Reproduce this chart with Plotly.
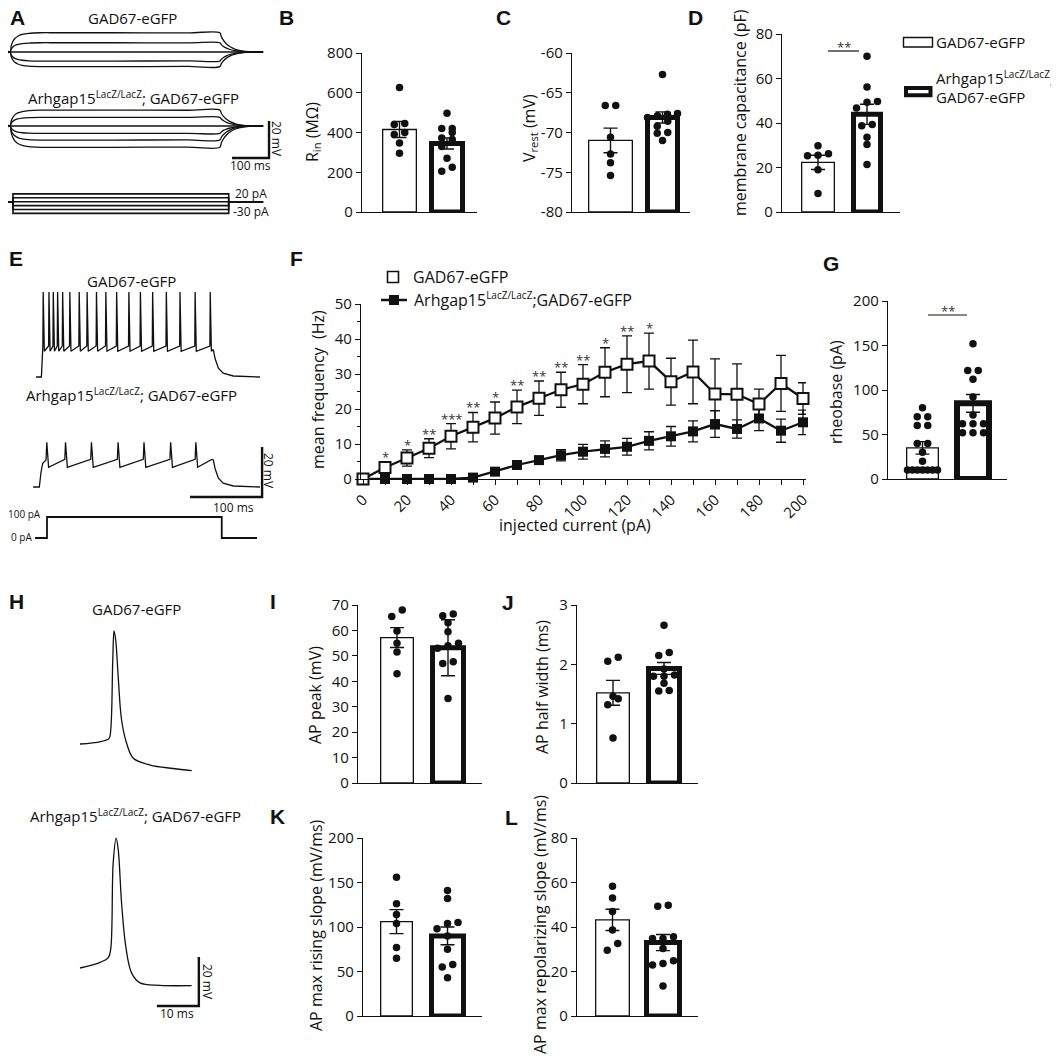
import plotly.graph_objects as go

W, H = 1059, 1060
OFF = 8  # the page body offsets the figure by 8 px; compensate so pixels match the reference
FONT = "Open Sans"
LETTER_FONT = "Liberation Sans"
INK = "#111111"
SUP = '<sup><span style="font-size:10px">LacZ/LacZ</span></sup>'

# ======================= DATA =======================
# A: passive responses to current steps (time ms, voltage mV relative to rest)
A_T = [0, 19, 22, 26, 32, 40, 52, 70, 100, 150, 300, 500, 586, 590, 596, 604, 614, 628, 645, 665, 703]
A_SHAPE = [0, 0, 0.30, 0.52, 0.70, 0.82, 0.91, 0.97, 1.0, 1.0, 1.0, 0.99, 1.0, 0.80, 0.60, 0.42, 0.27, 0.14, 0.06, 0.015, 0]
A_WT_AMP = [10.4, 5.0, 0.0, -4.9, -7.9]
A_KO_AMP = [8.6, 4.7, 0.0, -4.0, -7.6, -11.5]
A_STEP_T = [0, 27, 27, 610, 610, 703]
A_STEP_PA = [20, 10, 0, -10, -20, -30]

# B: input resistance (MOhm)
B_MEAN = [415, 345]
B_SEM = [40, 28]
B_WT = [627, 445, 440, 400, 390, 347, 295]
B_KO = [497, 420, 420, 400, 372, 365, 330, 270, 225, 205]

# C: resting potential (mV)
C_MEAN = [-71.0, -68.1]
C_SEM = [1.55, 0.7]
C_WT = [-66.6, -66.6, -70.6, -72.7, -73.8, -75.4]
C_KO = [-62.7, -67.6, -67.7, -67.9, -68.1, -68.6, -69.2, -70.0, -70.1, -71.0]
C_TICKS = [-80, -75, -70, -65, -60]

# D: membrane capacitance (pF)
D_MEAN = [22.3, 43.9]
D_SEM = [3.2, 4.5]
D_WT = [29.8, 26.2, 25.5, 25.3, 19.0, 8.3]
D_KO = [70.0, 56.2, 49.7, 49.3, 46.7, 39.3, 38.8, 33.6, 30.3, 21.3]

# E: firing at 100 pA (time ms, voltage mV relative to rest)
E_WT_SPIKES = [10, 18, 24, 30, 37, 47, 60, 71, 84, 97, 112, 129, 145, 162, 181, 200, 221, 242]
E_WT_PEAK, E_WT_PRE, E_WT_TROUGH = 34.0, 12.4, 10.3
E_WT_ON_T = [0, 7.5, 8.3, 9.0]
E_WT_ON_V = [0, 0, 5, 9]
E_WT_OFF_T = [246.3, 248.6, 253.3, 260, 274, 311]
E_WT_OFF_V = [11.0, 7.5, 3.5, 1.5, 0.4, 0]
E_KO_SPIKES = [15, 41, 77, 114, 150, 187, 222]
E_KO_PEAK, E_KO_PRE, E_KO_TROUGH = 17.9, 11.1, 7.9
E_KO_ON_T = [-4, 4.6, 7, 9.3, 13.5]
E_KO_ON_V = [0, 0, 6, 9.5, 10.6]
E_KO_OFF_T = [244, 246.3, 248.6, 253.3, 260, 274, 311]
E_KO_OFF_V = [11.0, 10.8, 7.5, 3.5, 1.5, 0.4, 0]
E_STEP_T = [-1.4, 15.3, 15.3, 258, 258, 307]
E_STEP_PA = [0, 0, 100, 100, 0, 0]

# F: mean frequency vs injected current
F_X = [0, 10, 20, 30, 40, 50, 60, 70, 80, 90, 100, 110, 120, 130, 140, 150, 160, 170, 180, 190, 200]
F_WT = [0, 3.3, 6.0, 8.8, 12.2, 14.8, 17.4, 20.6, 23.1, 25.5, 27.1, 30.5, 32.8, 33.7, 27.8, 30.6, 24.3, 24.2, 21.4, 27.3, 23.0]
F_WT_ERR = [0, 1.5, 2.3, 2.7, 3.6, 4.2, 4.6, 4.8, 4.9, 5.0, 5.6, 7.0, 8.1, 8.0, 6.7, 9.1, 10.0, 8.7, 4.3, 8.0, 4.5]
F_KO = [0, 0, 0, 0, 0, 0.4, 2.1, 4.0, 5.4, 6.8, 7.8, 8.6, 9.2, 10.9, 12.2, 13.6, 15.7, 14.3, 17.3, 13.8, 16.2]
F_KO_ERR = [0, 0, 0, 0, 0, 0.4, 0.6, 0.7, 1.0, 1.6, 2.1, 2.3, 2.4, 2.6, 2.8, 3.0, 3.8, 2.6, 3.5, 3.3, 3.5]
F_STARS = ["*", "*", "**", "***", "**", "*", "**", "**", "**", "**", "*", "**", "*"]  # for 10..130 pA

# G: rheobase (pA)
G_MEAN = [35, 85]
G_SEM = [7, 10]
G_WT = [10, 10, 10, 10, 10, 10, 10, 20, 30, 40, 40, 60, 60, 70, 70, 80]
G_KO = [52, 52, 52, 62, 62, 62, 72, 92, 112, 122, 122, 152]

# H: single action potentials (time ms, voltage mV)
H_WT_T = [0, 4.8, 6.7, 7.1, 7.8, 8.1, 8.5, 9.1, 9.9, 11.1, 12.7, 16.7, 22.2, 26.6]
H_WT_V = [0, 0.9, 1.9, 2.9, 34.0, 46.2, 42.4, 27.3, 9.8, 0.3, -5.8, -8.6, -10.0, -10.9]
H_KO_T = [0, 4.8, 6.7, 7.3, 7.9, 8.6, 9.1, 9.9, 10.9, 12.3, 14.3, 19.0, 26.6]
H_KO_V = [0, 2.3, 4.1, 7.5, 42.8, 53.0, 48.3, 26.5, 8.8, -2.1, -6.1, -7.1, -7.2]

# I: AP peak (mV)
I_MEAN = [57.2, 53.2]
I_SEM = [3.9, 11.0]
I_WT = [68.0, 65.5, 59.8, 55.0, 51.5, 43.0]
I_KO = [66.5, 65.8, 63.0, 59.5, 55.0, 54.0, 53.0, 47.7, 47.0, 33.2]

# J: AP half width (ms)
J_MEAN = [1.52, 1.93]
J_SEM = [0.21, 0.10]
J_WT = [2.05, 2.12, 1.42, 1.46, 1.32, 0.76]
J_KO = [2.66, 2.15, 2.20, 1.92, 1.82, 1.80, 1.80, 1.68, 1.56, 1.55]

# K: AP max rising slope (mV/ms)
K_MEAN = [106, 90]
K_SEM = [13.5, 10]
K_WT = [156, 126, 114, 104, 77, 65]
K_KO = [141, 132, 105, 104, 98, 90, 75, 58, 55, 43]

# L: AP max repolarizing slope (mV/ms)
L_MEAN = [43.2, 33.0]
L_SEM = [4.8, 3.6]
L_WT = [58.3, 53.0, 47.0, 38.6, 32.6, 29.5]
L_KO = [49.8, 49.3, 35.6, 34.8, 34.8, 30.3, 24.8, 23.6, 22.9, 13.5]

# scale bars (ms, mV)
A_BAR = (100, 20)
E_BAR = (100, 20)
H_BAR = (10, 20)

# ======================= LAYOUT HELPERS =======================
layout = dict(width=W, height=H, autosize=False,
              margin=dict(l=0, r=0, t=0, b=0, pad=0, autoexpand=False),
              paper_bgcolor="white", plot_bgcolor="rgba(0,0,0,0)",
              showlegend=False, barmode="overlay", annotations=[], shapes=[])
traces = []
_n = [0]


def fx(px):
    return (px - OFF) / W


def fy(py):
    return 1 - (py - OFF) / H


def add_axes(xpx, ypx, xr, yr):
    _n[0] += 1
    k = _n[0]
    s = "" if k == 1 else str(k)
    layout["xaxis" + s] = dict(domain=[fx(xpx[0]), fx(xpx[1])], range=list(xr), anchor="y" + s,
                               visible=False, fixedrange=True, showgrid=False, zeroline=False,
                               automargin=False)
    layout["yaxis" + s] = dict(domain=[fy(ypx[1]), fy(ypx[0])], range=list(yr), anchor="x" + s,
                               visible=False, fixedrange=True, showgrid=False, zeroline=False,
                               automargin=False)
    return "x" + s, "y" + s


def trace_axes(xpx, ypx, ref_px, ref_py, ux, uy):
    xr = [(xpx[0] - ref_px) * ux, (xpx[1] - ref_px) * ux]
    yr = [(ref_py - ypx[1]) * uy, (ref_py - ypx[0]) * uy]
    return add_axes(xpx, ypx, xr, yr)


def ann(px, py, text, size=15, xanchor="center", yanchor="middle", angle=0, family=FONT, color=INK):
    layout["annotations"].append(dict(x=fx(px), y=fy(py), xref="paper", yref="paper", text=text,
                                      showarrow=False, font=dict(family=family, size=size, color=color),
                                      xanchor=xanchor, yanchor=yanchor, textangle=angle))


def line(xs, ys, xa, ya, width=1.3, shape="linear"):
    traces.append(go.Scatter(x=xs, y=ys, mode="lines", line=dict(color=INK, width=width, shape=shape),
                             xaxis=xa, yaxis=ya, hoverinfo="skip", cliponaxis=False))


def scale_bar(corner_t, corner_v, bar, xa, ya):
    line([corner_t - bar[0], corner_t, corner_t], [corner_v, corner_v, corner_v + bar[1]], xa, ya, width=2.4)


def yfmt(ya, **kw):
    key = "yaxis" + ya[1:]
    layout[key].update(visible=True, showline=True, linecolor=INK, linewidth=1.3, ticks="outside",
                       ticklen=5, tickwidth=1.3, tickcolor=INK,
                       tickfont=dict(family=FONT, size=15, color=INK), **kw)


def xfmt_plain(xa):
    key = "xaxis" + xa[1:]
    layout[key].update(visible=True, showline=True, linecolor=INK, linewidth=1.3,
                       ticks="", showticklabels=False)


def swarm(vals, ppu, thresh=7.0, gap=10.5, maxspread=30.0):
    order = sorted(range(len(vals)), key=lambda i: vals[i])
    groups = []
    for i in order:
        if groups and (vals[i] - vals[groups[-1][0]]) * ppu < thresh:
            groups[-1].append(i)
        else:
            groups.append([i])
    offs = [0.0] * len(vals)
    for g in groups:
        n = len(g)
        step = gap if n < 2 else min(gap, maxspread / (n - 1))
        for k, i in enumerate(g):
            offs[i] = (k - (n - 1) / 2) * step
    return offs


def bar_panel(xpx, ypx, centers, yr, means, sems, wt, ko, wpx, ko_lw=5.0, **yk):
    s = centers[1] - centers[0]
    xr = [(xpx[0] - centers[0]) / s, (xpx[1] - centers[0]) / s]
    xa, ya = add_axes(xpx, ypx, xr, yr)
    xfmt_plain(xa)
    yfmt(ya, **yk)
    base = yr[0]
    traces.append(go.Bar(x=[0], y=[means[0] - base], base=base, width=(wpx[0] - 1.3) / s,
                         marker=dict(color="white", line=dict(color=INK, width=1.3)),
                         xaxis=xa, yaxis=ya, cliponaxis=False, hoverinfo="skip"))
    traces.append(go.Bar(x=[1], y=[means[1] - base], base=base, width=(wpx[1] - ko_lw) / s,
                         marker=dict(color="white", line=dict(color=INK, width=ko_lw)),
                         xaxis=xa, yaxis=ya, cliponaxis=False, hoverinfo="skip"))
    traces.append(go.Scatter(x=[0, 1], y=means, mode="markers",
                             marker=dict(size=1, color="rgba(0,0,0,0)"),
                             error_y=dict(type="data", array=sems, color=INK, thickness=1.4, width=7),
                             xaxis=xa, yaxis=ya, hoverinfo="skip"))
    ppu = (ypx[1] - ypx[0]) / (yr[1] - yr[0])
    for c, vals in ((0, wt), (1, ko)):
        offs = swarm(vals, ppu)
        traces.append(go.Scatter(x=[c + o / s for o in offs], y=vals, mode="markers",
                                 marker=dict(size=7.5, color=INK), xaxis=xa, yaxis=ya,
                                 cliponaxis=False, hoverinfo="skip"))
    return xa, ya


# ======================= PANEL A =======================
ua_t, ua_v = 100 / 37, 20 / 37
xa, ya = trace_axes((8, 285), (22, 82), 3, 52, ua_t, ua_v)
for a in A_WT_AMP:
    line(A_T, [a * s for s in A_SHAPE], xa, ya, width=1.3, shape="spline")
xa, ya = trace_axes((8, 285), (100, 165), 3, 126, ua_t, ua_v)
for a in A_KO_AMP:
    line(A_T, [a * s for s in A_SHAPE], xa, ya, width=1.3, shape="spline")
scale_bar(719, -17.3, A_BAR, xa, ya)
xa, ya = trace_axes((8, 285), (188, 218), 3, 201.7, ua_t, 10 / 3.9)
for i_pa in A_STEP_PA:
    line(A_STEP_T, [0, 0, i_pa, i_pa, 0, 0], xa, ya, width=1.6)
ann(132, 18, "GAD67-eGFP", 15)
ann(133, 98, "Arhgap15" + SUP + "; GAD67-eGFP", 15)
ann(277, 139, "20 mV", 12, angle=90)
ann(250, 166, "100 ms", 12)
ann(233, 193, "20 pA", 12, xanchor="left")
ann(231, 212, "-30 pA", 12, xanchor="left")

# ======================= PANEL B / C / D =======================
xa, ya = bar_panel((362, 477), (53, 212), (399.5, 447), [0, 800], B_MEAN, B_SEM, B_WT, B_KO, (35, 36),
                   dtick=200, tick0=0)
ann(313, 132, "R<sub>in</sub> (MΩ)", 16, angle=-90)

xa, ya = bar_panel((572, 690), (53, 212), (610.5, 662.5), [-80, -60], C_MEAN, C_SEM, C_WT, C_KO, (45, 35),
                   tickvals=C_TICKS, ticktext=[str(t) for t in C_TICKS])
ann(530, 128, "V<sub>rest</sub> (mV)", 16, angle=-90)

xa, ya = bar_panel((782, 900), (34, 212), (818, 867), [0, 80], D_MEAN, D_SEM, D_WT, D_KO, (34, 32),
                   dtick=20, tick0=0)
ann(740, 113, "membrane capacitance (pF)", 16, angle=-90)
layout["shapes"].append(dict(type="line", xref="paper", yref="paper", x0=fx(828), x1=fx(859),
                             y0=fy(51), y1=fy(51), line=dict(color=INK, width=1.2)))
ann(843.5, 47, "**", 13, color="#333")
# legend of D
layout["shapes"].append(dict(type="rect", xref="paper", yref="paper", x0=fx(903.5), x1=fx(932.5),
                             y0=fy(47), y1=fy(37.5), line=dict(color=INK, width=1.4), fillcolor="white"))
layout["shapes"].append(dict(type="rect", xref="paper", yref="paper", x0=fx(906), x1=fx(930.5),
                             y0=fy(95.3), y1=fy(88), line=dict(color=INK, width=4), fillcolor="white"))
ann(934, 42, "GAD67-eGFP", 15, xanchor="left")
ann(934, 78, "Arhgap15" + SUP + ";", 15, xanchor="left")
ann(934, 97, "GAD67-eGFP", 15, xanchor="left")

# ======================= PANEL E =======================
ue_t, ue_v = 100 / 72, 20 / 50


def spike_train(on_t, on_v, spikes, peak, pre, trough, rise, fall, off_t, off_v):
    t, v = list(on_t), list(on_v)
    for ts in spikes:
        t += [ts - rise, ts, ts + fall]
        v += [pre, peak, trough]
    return t + list(off_t), v + list(off_v)


xa, ya = trace_axes((20, 290), (282, 390), 36, 377, ue_t, ue_v)
t, v = spike_train(E_WT_ON_T, E_WT_ON_V, E_WT_SPIKES, E_WT_PEAK, E_WT_PRE, E_WT_TROUGH, 0.5, 1.6,
                   E_WT_OFF_T, E_WT_OFF_V)
line(t, v, xa, ya, width=1.3)
xa, ya = trace_axes((20, 290), (430, 500), 36, 487, ue_t, ue_v)
t, v = spike_train(E_KO_ON_T, E_KO_ON_V, E_KO_SPIKES, E_KO_PEAK, E_KO_PRE, E_KO_TROUGH, 1.0, 2.5,
                   E_KO_OFF_T, E_KO_OFF_V)
line(t, v, xa, ya, width=1.3)
scale_bar(314, -4, E_BAR, xa, ya)
xa, ya = trace_axes((20, 290), (510, 545), 36, 538, ue_t, 100 / 21)
line(E_STEP_T, E_STEP_PA, xa, ya, width=1.8)
ann(131, 281, "GAD67-eGFP", 15)
ann(131, 394, "Arhgap15" + SUP + "; GAD67-eGFP", 15)
ann(269, 471, "20 mV", 12, angle=90)
ann(233, 507, "100 ms", 12)
ann(43, 514, "100 pA", 10, xanchor="right")
ann(34, 537, "0 pA", 10, xanchor="right")

# ======================= PANEL F =======================
xa, ya = add_axes((361, 806), (304, 479), [(361 - 363) * 200 / 440, (806 - 363) * 200 / 440], [0, 50])
layout["xaxis" + xa[1:]].update(visible=True, showline=True, linecolor=INK, linewidth=1.3, ticks="outside",
                                ticklen=5, tickwidth=1.3, tickcolor=INK, dtick=20, tick0=0, tickangle=-45,
                                tickfont=dict(family=FONT, size=15, color=INK),
                                minor=dict(dtick=10, ticklen=5, tickwidth=1.3, tickcolor=INK, ticks="outside"))
yfmt(ya, dtick=10, tick0=0, minor=dict(dtick=5, ticklen=3, tickwidth=1.2, tickcolor=INK, ticks="outside"))
traces.append(go.Scatter(x=F_X, y=F_KO, mode="lines+markers", line=dict(color=INK, width=2.3),
                         marker=dict(symbol="square", size=10, color=INK),
                         error_y=dict(type="data", array=F_KO_ERR, color=INK, thickness=1.3, width=5),
                         xaxis=xa, yaxis=ya, cliponaxis=False, hoverinfo="skip"))
traces.append(go.Scatter(x=F_X, y=F_WT, mode="lines+markers", line=dict(color=INK, width=2.3),
                         marker=dict(symbol="square", size=11, color="white", line=dict(color=INK, width=2)),
                         error_y=dict(type="data", array=F_WT_ERR, color=INK, thickness=1.3, width=5),
                         xaxis=xa, yaxis=ya, cliponaxis=False, hoverinfo="skip"))
for i, st in enumerate(F_STARS):
    layout["annotations"].append(dict(x=F_X[i + 1], y=F_WT[i + 1] + F_WT_ERR[i + 1], xref=xa, yref=ya,
                                      text=st, showarrow=False, yanchor="bottom", yshift=-6,
                                      font=dict(family=FONT, size=13, color="#333")))
ann(575, 525, "injected current (pA)", 16)
ann(318, 390, "mean frequency  (Hz)", 16, angle=-90)
# legend of F (drawn in a pixel-coordinate helper axis)
lx, ly = add_axes((370, 420), (265, 312), [370, 420], [312, 265])
traces.append(go.Scatter(x=[381, 407], y=[300, 300], mode="lines", line=dict(color=INK, width=2.5),
                         xaxis=lx, yaxis=ly, hoverinfo="skip"))
traces.append(go.Scatter(x=[394], y=[300], mode="markers", marker=dict(symbol="square", size=10, color=INK),
                         xaxis=lx, yaxis=ly, hoverinfo="skip"))
traces.append(go.Scatter(x=[393], y=[277], mode="markers",
                         marker=dict(symbol="square", size=11, color="white", line=dict(color=INK, width=1.6)),
                         xaxis=lx, yaxis=ly, hoverinfo="skip"))
ann(411, 277, "GAD67-eGFP", 16, xanchor="left")
ann(412, 300, "Arhgap15" + SUP + ";GAD67-eGFP", 16, xanchor="left")

# ======================= PANEL G =======================
xa, ya = bar_panel((888, 1007), (301, 479), (922.5, 973), [0, 200], G_MEAN, G_SEM, G_WT, G_KO, (33, 38),
                   ko_lw=6, dtick=50, tick0=0)
ann(836, 392, "rheobase (pA)", 16, angle=-90)
layout["shapes"].append(dict(type="line", xref="paper", yref="paper", x0=fx(928), x1=fx(967),
                             y0=fy(315), y1=fy(315), line=dict(color=INK, width=1.2)))
ann(948, 311, "**", 13, color="#333")

# ======================= PANEL H =======================
uh_t, uh_v = 10 / 42, 20 / 49
xa, ya = trace_axes((60, 230), (620, 780), 80, 744, uh_t, uh_v)
line(H_WT_T, H_WT_V, xa, ya, width=1.3, shape="spline")
xa, ya = trace_axes((60, 230), (830, 1015), 80, 968, uh_t, uh_v)
line(H_KO_T, H_KO_V, xa, ya, width=1.3, shape="spline")
scale_bar(28.3, -15.5, H_BAR, xa, ya)
ann(136, 609, "GAD67-eGFP", 15)
ann(135, 815, "Arhgap15" + SUP + "; GAD67-eGFP", 15)
ann(208, 982, "20 mV", 12, angle=90)
ann(177, 1013, "10 ms", 12)

# ======================= PANELS I-L =======================
bar_panel((358, 482), (605, 783), (397, 448), [0, 70], I_MEAN, I_SEM, I_WT, I_KO, (34, 36), dtick=10, tick0=0)
ann(315, 695, "AP peak (mV)", 16, angle=-90)
bar_panel((577, 698), (605, 783), (613, 664), [0, 3], J_MEAN, J_SEM, J_WT, J_KO, (34, 36), dtick=1, tick0=0)
ann(542, 687, "AP half width (ms)", 16, angle=-90)
bar_panel((363, 482), (838, 1016), (396.5, 447.5), [0, 200], K_MEAN, K_SEM, K_WT, K_KO, (33, 37),
          dtick=50, tick0=0)
ann(316, 925, "AP max rising slope (mV/ms)", 16, angle=-90)
bar_panel((577, 698), (838, 1016), (612.5, 663), [0, 80], L_MEAN, L_SEM, L_WT, L_KO, (35, 38),
          dtick=20, tick0=0)
ann(540, 925, "AP max repolarizing slope (mV/ms)", 16, angle=-90)

# ======================= PANEL LETTERS =======================
for letter, px, py in [("A", 17, 18), ("B", 286.5, 18), ("C", 503.5, 18), ("D", 695.5, 18),
                       ("E", 16, 258), ("F", 296.5, 258), ("G", 830.5, 264), ("H", 16, 601),
                       ("I", 272.5, 601), ("J", 508, 602), ("K", 277.5, 816), ("L", 511, 817)]:
    ann(px, py, "<b>%s</b>" % letter, 21, family=LETTER_FONT)

fig = go.Figure(data=traces, layout=layout)
fig.write_html("out.html")
